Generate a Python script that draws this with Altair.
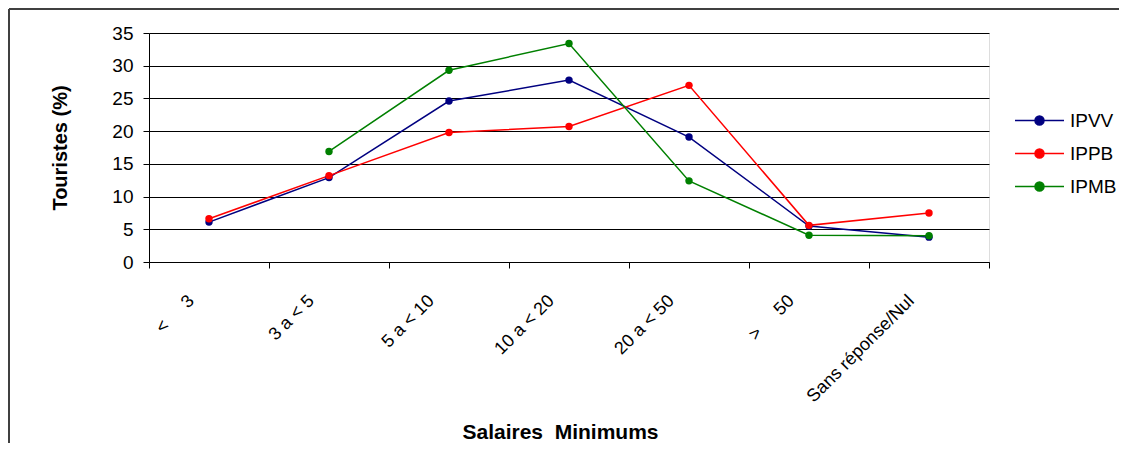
import altair as alt
import pandas as pd

NB = "\u00a0"
categories = ["<" + NB * 5 + "3", "3 a < 5", "5 a < 10", "10 a < 20", "20 a < 50", ">" + NB * 5 + "50", "Sans réponse/Nul"]
series = ["IPVV", "IPPB", "IPMB"]
ipvv = [6.1, 12.9, 24.6, 27.8, 19.1, 5.5, 3.8]
ippb = [6.6, 13.2, 19.8, 20.7, 27.0, 5.6, 7.5]
ipmb = [None, 16.9, 29.3, 33.4, 12.4, 4.1, 4.0]
colors = ["#000080", "#FF0000", "#008000"]

rows = []
for name, vals in zip(series, [ipvv, ippb, ipmb]):
    for c, v in zip(categories, vals):
        rows.append({"cat": c, "series": name, "value": v, "order": series.index(name)})
df = pd.DataFrame(rows)

FONT = "Liberation Sans"

xenc = alt.X("cat:N", sort=categories, scale=alt.Scale(paddingInner=0, paddingOuter=0),
             axis=alt.Axis(title="Salaires" + NB * 2 + "Minimums", labelAngle=-45, labelAlign="right",
                           labelBaseline="middle", labelPadding=30, labelOffset=-18,
                           tickBand="extent", tickSize=6,
                           tickColor="black", domainColor="black", grid=False, labelLimit=400,
                           labelFont=FONT, labelFontSize=18, labelColor="black",
                           titleFont=FONT, titleFontSize=21, titleFontWeight="bold", titleColor="black",
                           titleX=411, titleY=176, titleAlign="center", titleBaseline="alphabetic"))
yenc = alt.Y("value:Q", scale=alt.Scale(domain=[0, 35], nice=False),
             axis=alt.Axis(title="Touristes (%)", values=[0, 5, 10, 15, 20, 25, 30, 35], tickSize=6,
                           tickColor="black", domainColor="black", grid=True, gridColor="black",
                           gridWidth=1, labelPadding=10,
                           labelFont=FONT, labelFontSize=19, labelColor="black",
                           titleFont=FONT, titleFontSize=20, titleFontWeight="bold", titleColor="black",
                           titleX=-89, titleY=114.5, titleAngle=-90, titleAlign="center",
                           titleBaseline="middle"))

color_scale = alt.Scale(domain=series, range=colors)
# legend symbol: a horizontal line with a dot, in path units scaled by sqrt(size)/2
sym = "M-5,0L5,0M-0.92,0A0.92,0.92,0,1,1,0.92,0A0.92,0.92,0,1,1,-0.92,0Z"
legend = alt.Legend(title=None, orient="none", legendX=881, legendY=78, padding=0,
                    symbolType=sym, symbolSize=96, symbolStrokeWidth=1.5,
                    labelFont=FONT, labelFontSize=19, labelColor="black",
                    labelOffset=21, rowPadding=13)
cenc = alt.Color("series:N", scale=color_scale, legend=legend)

base = alt.Chart(df)
lines = base.mark_line(strokeWidth=1.5).encode(
    x=xenc, y=yenc, color=cenc, order="order:Q",
)
points = base.transform_filter("datum.value != null").mark_point(
    filled=True, size=55, opacity=1).encode(x=xenc, y=yenc, color=cenc)

one = alt.Chart(pd.DataFrame({"a": [0]}))
frame_left = one.mark_rule(stroke="#404040", strokeWidth=2).encode(
    x=alt.value(-140), y=alt.value(-24), y2=alt.value(600))
frame_top = one.mark_rule(stroke="#404040", strokeWidth=2).encode(
    x=alt.value(-140), x2=alt.value(1200), y=alt.value(-24))

chart = alt.layer(frame_left, frame_top, lines, points).properties(
    width=840, height=229,
    autosize=alt.AutoSizeParams(type="none"),
    padding={"left": 141, "top": 25, "right": 130, "bottom": 181},
).configure_view(stroke="black", strokeWidth=1).configure(background="white")

chart.save("out.html", embed_options={"renderer": "svg", "actions": False})
